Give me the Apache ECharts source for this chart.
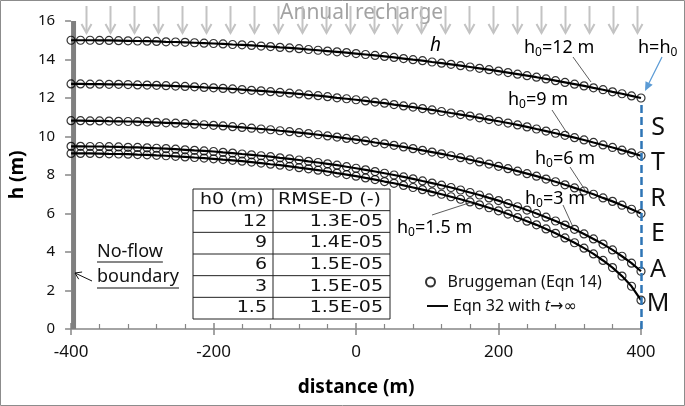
<!DOCTYPE html>
<html><head><meta charset="utf-8">
<script src="https://cdn.jsdelivr.net/npm/echarts@6/dist/echarts.min.js"></script>
<style>html,body{margin:0;padding:0;background:#fff}#c{width:685px;height:406px}</style>
</head><body><div id="c"></div>
<script>
// ---- data ----
const distance = [-400,-386.7,-373.3,-360,-346.7,-333.3,-320,-306.7,-293.3,-280,-266.7,-253.3,-240,-226.7,-213.3,-200,-186.7,-173.3,-160,-146.7,-133.3,-120,-106.7,-93.3,-80,-66.7,-53.3,-40,-26.7,-13.3,0,13.3,26.7,40,53.3,66.7,80,93.3,106.7,120,133.3,146.7,160,173.3,186.7,200,213.3,226.7,240,253.3,266.7,280,293.3,306.7,320,333.3,346.7,360,373.3,386.7,400];
const h0_12 = [15.00,15.00,15.00,14.99,14.99,14.98,14.97,14.96,14.95,14.94,14.92,14.91,14.89,14.87,14.85,14.83,14.81,14.78,14.76,14.73,14.70,14.67,14.63,14.60,14.56,14.52,14.48,14.44,14.40,14.36,14.31,14.26,14.21,14.16,14.11,14.05,13.99,13.94,13.87,13.81,13.75,13.68,13.61,13.54,13.47,13.40,13.32,13.24,13.16,13.08,12.99,12.90,12.81,12.72,12.63,12.53,12.43,12.32,12.22,12.11,12.00];
const h0_9 = [12.73,12.73,12.72,12.72,12.71,12.71,12.70,12.68,12.67,12.66,12.64,12.62,12.60,12.58,12.55,12.53,12.50,12.47,12.44,12.40,12.37,12.33,12.29,12.25,12.21,12.16,12.12,12.07,12.01,11.96,11.91,11.85,11.79,11.73,11.66,11.59,11.53,11.45,11.38,11.30,11.22,11.14,11.06,10.97,10.88,10.79,10.70,10.60,10.50,10.39,10.28,10.17,10.06,9.94,9.82,9.69,9.56,9.43,9.29,9.15,9.00];
const h0_6 = [10.82,10.82,10.81,10.81,10.80,10.79,10.78,10.77,10.75,10.73,10.71,10.69,10.67,10.64,10.61,10.58,10.55,10.51,10.47,10.43,10.39,10.35,10.30,10.25,10.20,10.15,10.09,10.03,9.97,9.90,9.84,9.77,9.69,9.62,9.54,9.46,9.37,9.28,9.19,9.10,9.00,8.90,8.79,8.68,8.57,8.45,8.33,8.20,8.07,7.94,7.79,7.65,7.49,7.33,7.17,7.00,6.81,6.63,6.43,6.22,6.00];
const h0_3 = [9.49,9.49,9.48,9.48,9.47,9.46,9.44,9.43,9.41,9.39,9.37,9.34,9.31,9.28,9.25,9.22,9.18,9.14,9.09,9.05,9.00,8.95,8.89,8.84,8.78,8.71,8.65,8.58,8.51,8.43,8.35,8.27,8.18,8.09,8.00,7.90,7.80,7.69,7.58,7.47,7.35,7.22,7.09,6.96,6.81,6.67,6.51,6.35,6.18,6.00,5.81,5.61,5.40,5.18,4.94,4.68,4.41,4.11,3.78,3.42,3.00];
const h0_15 = [9.12,9.12,9.12,9.11,9.10,9.09,9.08,9.06,9.05,9.02,9.00,8.97,8.94,8.91,8.88,8.84,8.80,8.76,8.72,8.67,8.62,8.56,8.51,8.45,8.38,8.32,8.25,8.18,8.10,8.02,7.94,7.85,7.76,7.66,7.57,7.46,7.35,7.24,7.12,7.00,6.87,6.74,6.60,6.45,6.30,6.14,5.97,5.79,5.60,5.41,5.20,4.97,4.73,4.48,4.20,3.90,3.56,3.19,2.75,2.22,1.50];
const tableHeader = ['h0 (m)', 'RMSE-D (-)'];
const tableH0 = ['12', '9', '6', '3', '1.5'];
const tableRmse = ['1.3E-05', '1.4E-05', '1.5E-05', '1.5E-05', '1.5E-05'];
const streamLetters = ['S', 'T', 'R', 'E', 'A', 'M'];
const DOT = 'Bruggeman (Eqn 14)';
const LINE = 'Eqn 32 with t\u2192\u221E';

// ---- chart ----
const F = '"Noto Sans", "DejaVu Sans", sans-serif';
const TF = '"DejaVu Sans", sans-serif';
const chart = echarts.init(document.getElementById('c'), null, {renderer: 'canvas'});
const curves = [h0_12, h0_9, h0_6, h0_3, h0_15];
const series = [];
curves.forEach((c, k) => {
  const d = distance.map((x, i) => [x, c[i]]);
  const ls = {type: 'line', name: LINE, data: d, symbol: 'none', showSymbol: false,
    lineStyle: {color: '#000', width: 2.2}, itemStyle: {color: '#000'}, z: 3, animation: false};
  if (k === 0) {
    ls.markLine = {silent: true, symbol: ['none', 'none'], label: {show: false},
      lineStyle: {color: '#2e75b6', width: 2.5, type: [8, 4]},
      data: [[{coord: [400, 0]}, {coord: [400, 11.85]}]]};
    ls.markArea = {silent: true, itemStyle: {color: '#7f7f7f'},
      data: [[{coord: [-400, 0]}, {coord: [-393, 16]}]]};
  }
  series.push(ls);
  series.push({type: 'scatter', name: DOT, data: d, symbol: 'circle', symbolSize: 8,
    itemStyle: {color: 'rgba(255,255,255,0)', borderColor: '#000', borderWidth: 1.2}, z: 4, animation: false});
});

const ctx = document.createElement('canvas').getContext('2d');
function tw(t, font) { ctx.font = font; return ctx.measureText(t).width; }

const g = [];
// outer border
g.push({type: 'rect', shape: {x: 0.5, y: 0.5, width: 684, height: 405}, style: {fill: 'none', stroke: '#8c8c8c', lineWidth: 1}, z: 0});
// recharge arrows
for (let k = 0; k < 24; k++) {
  const x = Math.round(86 + k * 23.96) + 0.5;
  g.push({type: 'polyline', shape: {points: [[x, 6], [x, 33]]}, style: {stroke: '#c3c3c3', lineWidth: 2, fill: null}, z: 6});
  g.push({type: 'polyline', shape: {points: [[x - 5, 24], [x, 33], [x + 5, 24]]}, style: {stroke: '#c3c3c3', lineWidth: 2, fill: null}, z: 6});
}
g.push({type: 'text', x: 280, y: 13, style: {text: 'Annual recharge', font: '21px ' + F, fill: '#a3a3a3', verticalAlign: 'middle'}, z: 5});

// curve labels
const rich = {n: {fontSize: 18, fontFamily: F, fill: '#000'}, s: {fontSize: 12, fontFamily: F, fill: '#000', verticalAlign: 'bottom', padding: [9, 0, 0, 0]}};
function hlab(rest, x, y) {
  g.push({type: 'text', x: x, y: y, style: {text: '{n|h}{s|0}{n|' + rest + '}', rich: rich, verticalAlign: 'middle'}, z: 7});
}
hlab('=12 m', 524, 48);
hlab('=9 m', 508, 100);
hlab('=6 m', 535, 159);
hlab('=3 m', 525, 199);
hlab('=1.5 m', 397, 228);
g.push({type: 'text', x: 638, y: 48, style: {text: '{n|h=h}{s|0}', rich: rich, verticalAlign: 'middle'}, z: 7});
g.push({type: 'text', x: 430, y: 46, style: {text: 'h', font: 'italic 19px ' + F, fill: '#000', verticalAlign: 'middle'}, z: 7});
// leader lines
[[573, 57, 591, 82], [552, 110, 567, 133], [570, 167, 585, 190], [563, 205, 573, 227], [432, 215, 472, 202]].forEach(l => {
  g.push({type: 'line', shape: {x1: l[0], y1: l[1], x2: l[2], y2: l[3]}, style: {stroke: '#333', lineWidth: 0.8}, z: 6});
});
// blue arrow h=h0
g.push({type: 'line', shape: {x1: 662, y1: 57, x2: 649, y2: 83}, style: {stroke: '#5b9bd5', lineWidth: 1.2}, z: 6});
g.push({type: 'polygon', shape: {points: [[645, 91], [652.7, 84.8], [645.5, 81.2]]}, style: {fill: '#5b9bd5'}, z: 6});
// STREAM letters
const sy = [128, 163, 199, 234, 270, 304];
streamLetters.forEach((t, i) => {
  g.push({type: 'text', x: 658, y: sy[i], style: {text: t, font: '25px ' + F, fill: '#111', align: 'center', verticalAlign: 'middle'}, z: 7});
});
// no-flow boundary
const nf = '18px ' + F;
g.push({type: 'text', x: 97, y: 252, style: {text: 'No-flow', font: nf, fill: '#111', verticalAlign: 'middle'}, z: 7});
g.push({type: 'text', x: 97, y: 277, style: {text: 'boundary', font: nf, fill: '#111', verticalAlign: 'middle'}, z: 7});
g.push({type: 'line', shape: {x1: 97, y1: 262, x2: 97 + tw('No-flow', nf), y2: 262}, style: {stroke: '#111', lineWidth: 1.2}, z: 7});
g.push({type: 'line', shape: {x1: 97, y1: 288, x2: 97 + tw('boundary', nf), y2: 288}, style: {stroke: '#111', lineWidth: 1.2}, z: 7});
g.push({type: 'polyline', shape: {points: [[92, 281], [75, 273]]}, style: {stroke: '#111', lineWidth: 1, fill: null}, z: 7});
g.push({type: 'polyline', shape: {points: [[82.1, 272], [75, 273], [78.7, 279.2]]}, style: {stroke: '#111', lineWidth: 1, fill: null}, z: 7});
// table
const tx = 193, ty = 189, tW = 197, rh = 130 / 6, cx = 273;
g.push({type: 'rect', shape: {x: tx, y: ty, width: tW, height: rh * 6}, style: {fill: '#fff', stroke: '#222', lineWidth: 1}, z: 8});
g.push({type: 'line', shape: {x1: cx, y1: ty, x2: cx, y2: ty + rh * 6}, style: {stroke: '#222', lineWidth: 1}, z: 9});
for (let r = 1; r < 6; r++) {
  g.push({type: 'line', shape: {x1: tx, y1: ty + rh * r, x2: tx + tW, y2: ty + rh * r}, style: {stroke: '#222', lineWidth: 1}, z: 9});
}
const tf = '16px ' + TF;
const sx = 103 / tw(tableHeader[1], tf);
function ttext(t, x, y, align) {
  g.push({type: 'text', x: x, y: y, scaleX: sx, style: {text: t, font: tf, fill: '#111', align: align, verticalAlign: 'middle'}, z: 9});
}
ttext(tableHeader[0], 200, ty + rh / 2, 'left');
ttext(tableHeader[1], 278, ty + rh / 2, 'left');
tableH0.forEach((t, i) => {
  const y = ty + rh * (i + 1.5);
  ttext(t, 267, y, 'right');
  ttext(tableRmse[i], 383, y, 'right');
});

const axisGray = '#868686';
const legText = {fontFamily: F, fontSize: 16, color: '#111'};
const option = {
  backgroundColor: '#fff',
  animation: false,
  grid: {left: 69, right: 44, top: 21, bottom: 77},
  legend: [{
    data: [{name: DOT, icon: 'circle'}], left: 420, top: 269, itemWidth: 10, itemHeight: 9,
    selectedMode: false,
    formatter: name => '{a|' + name + '}',
    textStyle: Object.assign({}, legText, {rich: {a: Object.assign({padding: [0, 0, 0, 7]}, legText)}})
  }, {
    data: [{name: LINE, icon: 'path://M0,0 L22,0 L22,2 L0,2 Z', itemStyle: {color: '#000', borderWidth: 0}}],
    left: 422, top: 293, itemWidth: 21, itemHeight: 9,
    selectedMode: false,
    formatter: () => '{a|Eqn 32 with }{i|t}{a|\u2192\u221E}',
    textStyle: Object.assign({}, legText, {rich: {
      a: Object.assign({}, legText),
      i: Object.assign({fontStyle: 'italic'}, legText)}})
  }],
  xAxis: [{
    type: 'value', min: -400, max: 400, interval: 200,
    axisLine: {onZero: false, lineStyle: {color: axisGray, width: 1.5}},
    axisTick: {show: true, length: 6, lineStyle: {color: axisGray, width: 1.5}},
    axisLabel: {fontFamily: F, fontSize: 17, color: '#111', margin: 15},
    splitLine: {show: false},
    name: 'distance (m)', nameLocation: 'middle', nameGap: 49,
    nameTextStyle: {fontFamily: F, fontSize: 19, fontWeight: 'bold', color: '#000'}
  }, {
    type: 'value', min: -400, max: 400, interval: 200, position: 'bottom', offset: 0,
    axisLine: {show: false, onZero: false},
    axisTick: {show: true, inside: true, length: 6, lineStyle: {color: axisGray, width: 1.5}},
    minorTick: {show: true, splitNumber: 5, length: 5, lineStyle: {color: axisGray, width: 1.2}},
    axisLabel: {show: false}, splitLine: {show: false}
  }],
  yAxis: {
    type: 'value', min: 0, max: 16, interval: 2,
    axisLine: {show: false, onZero: false},
    axisTick: {show: true, length: 6, lineStyle: {color: axisGray, width: 1.5}},
    axisLabel: {fontFamily: F, fontSize: 15, color: '#111', margin: 16},
    splitLine: {show: false},
    name: 'h (m)', nameLocation: 'middle', nameGap: 44,
    nameTextStyle: {fontFamily: F, fontSize: 19, fontWeight: 'bold', color: '#000'}
  },
  series: series,
  graphic: g
};
chart.setOption(option);
</script></body></html>
